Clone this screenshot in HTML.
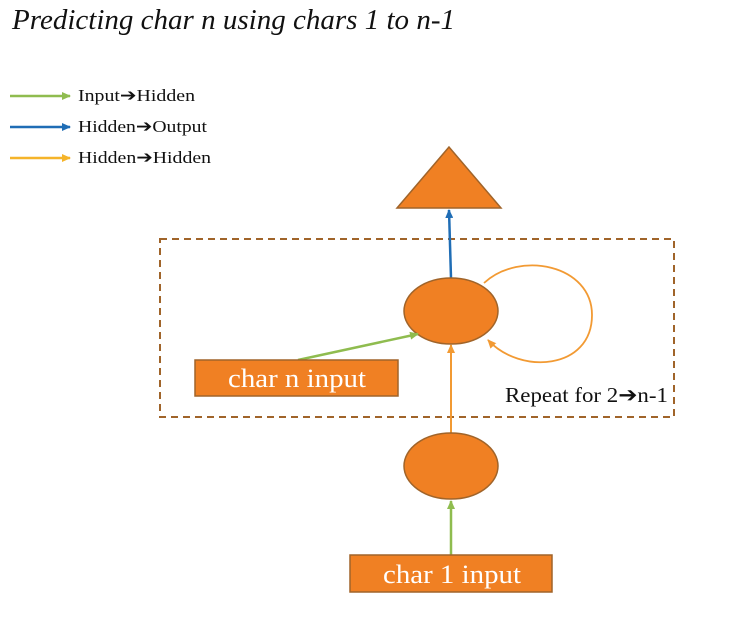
<!DOCTYPE html>
<html><head><meta charset="utf-8"><style>
body{margin:0;background:#fff;width:733px;height:613px;overflow:hidden;font-family:"Liberation Serif",serif}
.ar{font-family:"DejaVu Sans",sans-serif;font-weight:bold}
</style></head><body>
<svg width="733" height="613" viewBox="0 0 733 613">
<defs>
<marker id="mg" markerUnits="userSpaceOnUse" markerWidth="9" markerHeight="8" refX="8" refY="4" orient="auto"><path d="M0,0 L9,4 L0,8 z" fill="#8fbc4f"/></marker>
<marker id="mb" markerUnits="userSpaceOnUse" markerWidth="9" markerHeight="8" refX="8" refY="4" orient="auto"><path d="M0,0 L9,4 L0,8 z" fill="#1f6db5"/></marker>
<marker id="mo" markerUnits="userSpaceOnUse" markerWidth="9" markerHeight="8" refX="8" refY="4" orient="auto"><path d="M0,0 L9,4 L0,8 z" fill="#f29a33"/></marker>
<marker id="my" markerUnits="userSpaceOnUse" markerWidth="9" markerHeight="8" refX="8" refY="4" orient="auto"><path d="M0,0 L9,4 L0,8 z" fill="#f5b42a"/></marker>
</defs>
<text x="12" y="29" font-size="28" font-style="italic" fill="#111" textLength="443" lengthAdjust="spacingAndGlyphs">Predicting char n using chars 1 to n-1</text>
<g>
<line x1="10" y1="96" x2="70" y2="96" stroke="#8fbc4f" stroke-width="2.5" marker-end="url(#mg)"/>
<text x="78" y="101" font-size="17" fill="#111" textLength="117" lengthAdjust="spacingAndGlyphs">Input<tspan class="ar">➔</tspan>Hidden</text>
<line x1="10" y1="127" x2="70" y2="127" stroke="#1f6db5" stroke-width="2.5" marker-end="url(#mb)"/>
<text x="78" y="132" font-size="17" fill="#111" textLength="129" lengthAdjust="spacingAndGlyphs">Hidden<tspan class="ar">➔</tspan>Output</text>
<line x1="10" y1="158" x2="70" y2="158" stroke="#f5b42a" stroke-width="2.5" marker-end="url(#my)"/>
<text x="78" y="163" font-size="17" fill="#111" textLength="133" lengthAdjust="spacingAndGlyphs">Hidden<tspan class="ar">➔</tspan>Hidden</text>
</g>
<rect x="160" y="239" width="514" height="178" fill="none" stroke="#a0642a" stroke-width="2" stroke-dasharray="7,5"/>
<text x="505" y="402" font-size="21" fill="#111" textLength="163" lengthAdjust="spacingAndGlyphs">Repeat for 2<tspan class="ar">➔</tspan>n-1</text>
<polygon points="449,147 397,208 501,208" fill="#f08023" stroke="#a0642a" stroke-width="1.5"/>
<line x1="451" y1="278" x2="449" y2="210" stroke="#1f6db5" stroke-width="2.5" marker-end="url(#mb)"/>
<path d="M484,283 C520,250 592,265 592,315 C592,370 520,375 488,340" fill="none" stroke="#f29a33" stroke-width="1.8" marker-end="url(#mo)"/>
<line x1="451" y1="433" x2="451" y2="345" stroke="#f29a33" stroke-width="2" marker-end="url(#mo)"/>
<ellipse cx="451" cy="311" rx="47" ry="33" fill="#f08023" stroke="#a0642a" stroke-width="1.5"/>
<ellipse cx="451" cy="466" rx="47" ry="33" fill="#f08023" stroke="#a0642a" stroke-width="1.5"/>
<line x1="298" y1="360" x2="418" y2="334" stroke="#8fbc4f" stroke-width="2.5" marker-end="url(#mg)"/>
<line x1="451" y1="555" x2="451" y2="501" stroke="#8fbc4f" stroke-width="2.5" marker-end="url(#mg)"/>
<rect x="195" y="360" width="203" height="36" fill="#f08023" stroke="#a0642a" stroke-width="1.5"/>
<text x="228" y="387" font-size="26" fill="#fff" textLength="138" lengthAdjust="spacingAndGlyphs">char n input</text>
<rect x="350" y="555" width="202" height="37" fill="#f08023" stroke="#a0642a" stroke-width="1.5"/>
<text x="383" y="583" font-size="26" fill="#fff" textLength="138" lengthAdjust="spacingAndGlyphs">char 1 input</text>
</svg>
</body></html>
